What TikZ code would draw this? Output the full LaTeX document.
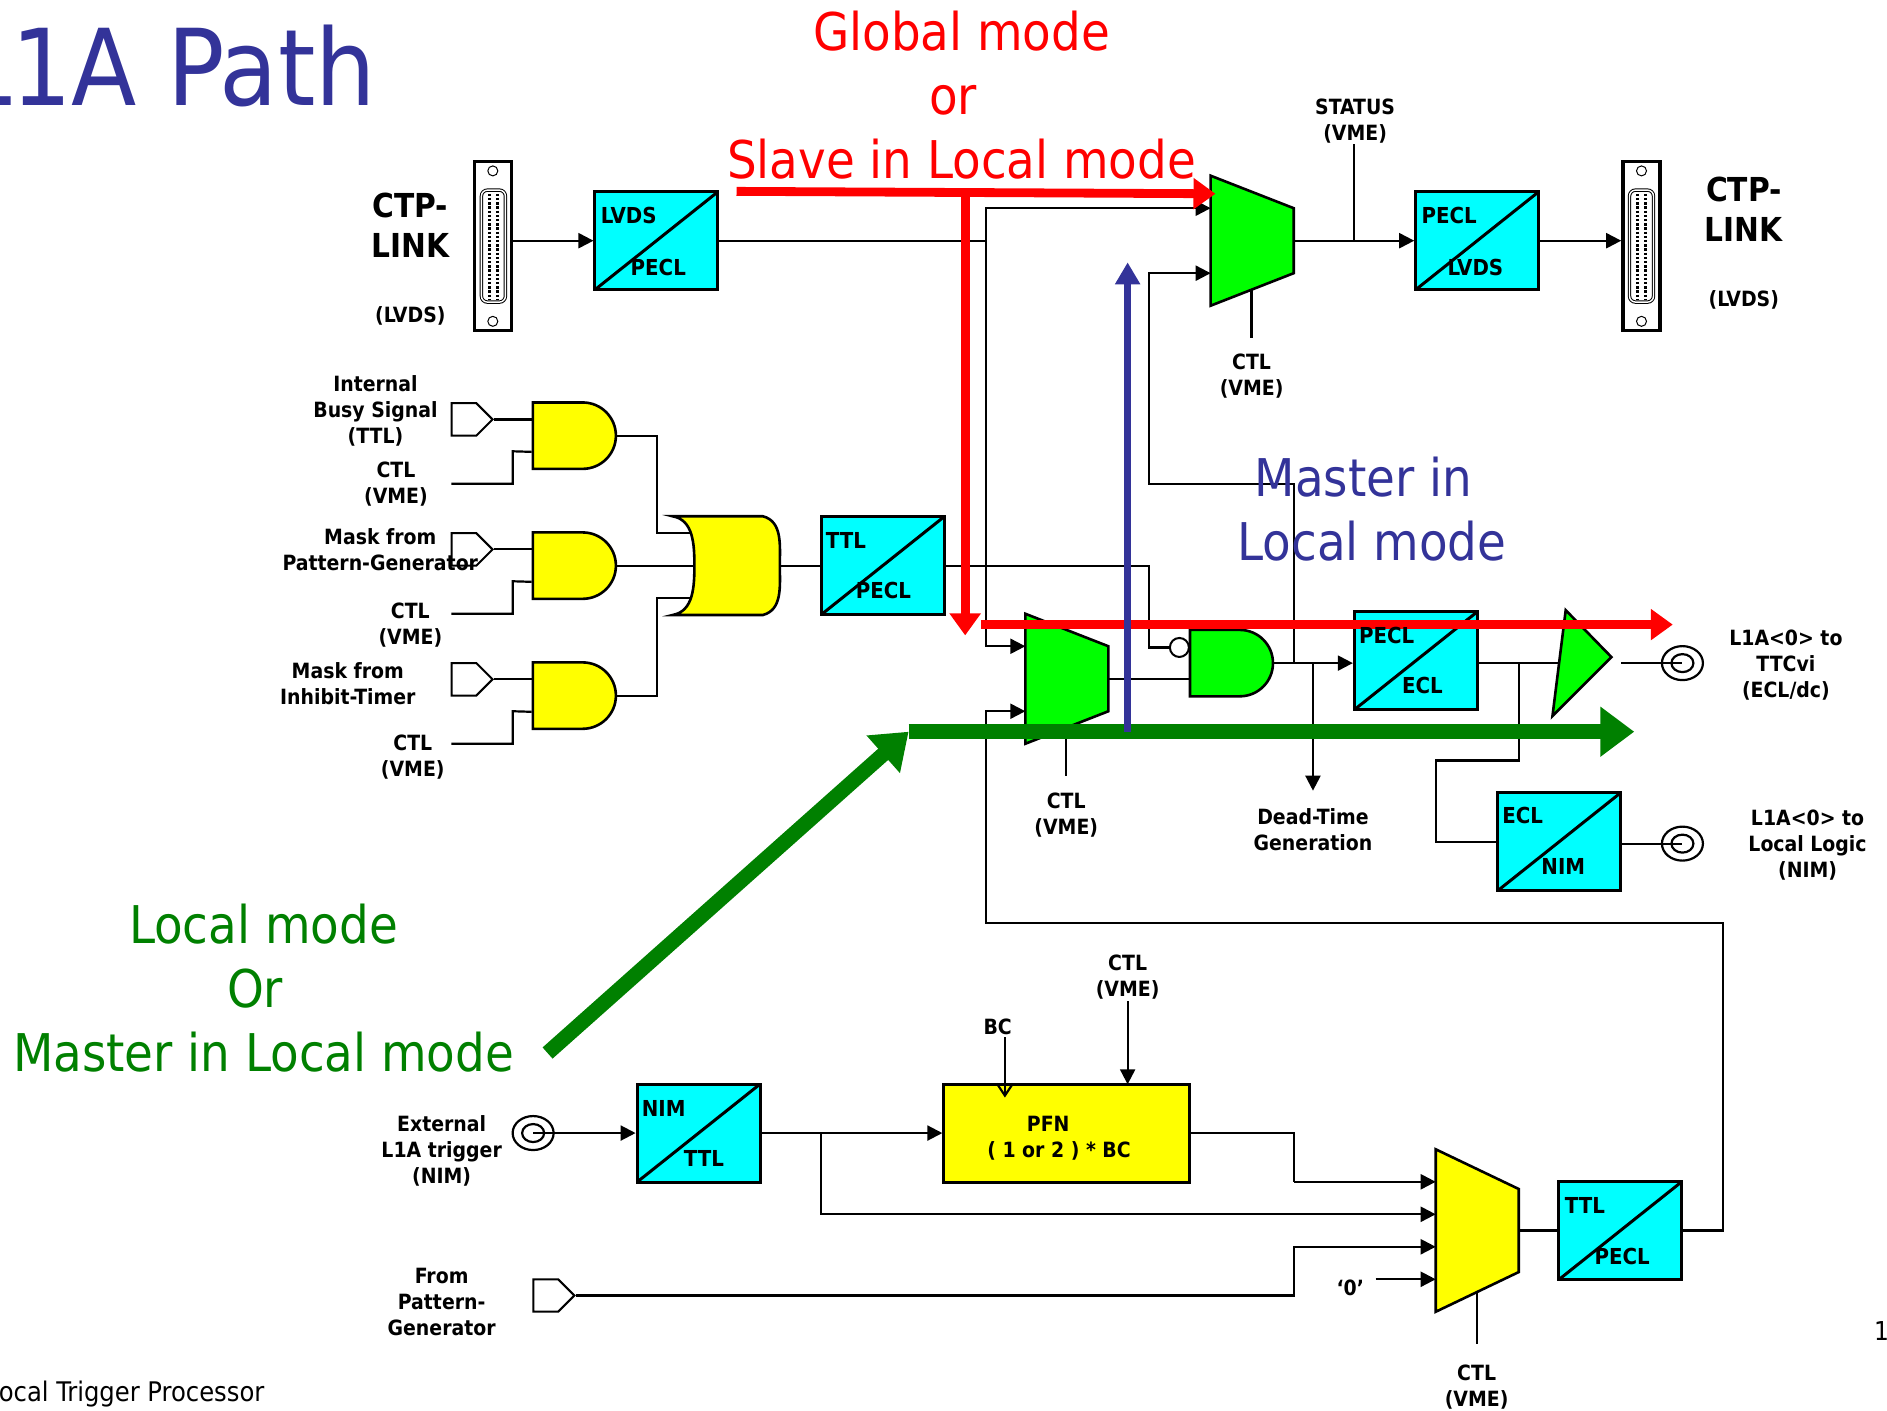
\documentclass[tikz,border=0pt]{standalone}
\usepackage{fontspec}
\setmainfont{DejaVu Sans}
\newfontfamily\titlefont{DejaVu Sans Condensed}
\newfontfamily\boldfont{DejaVu Sans Condensed Bold}
\usetikzlibrary{arrows.meta,shapes.geometric,shapes.symbols,shapes.gates.logic.US}
\definecolor{cyanbox}{RGB}{0,255,255}
\definecolor{limegate}{RGB}{0,255,0}
\definecolor{yellowgate}{RGB}{255,255,0}
\definecolor{titleblue}{RGB}{51,51,153}
\definecolor{pathgreen}{RGB}{0,128,0}
\tikzset{
  wire/.style={line width=1.1pt,line join=miter},
  sig/.style={wire,-{Triangle[length=7.5pt,width=7.5pt]}},
  convbox/.style={draw=black,line width=1.5pt,fill=cyanbox,minimum width=61.5pt,minimum height=49pt,inner sep=0pt,
    path picture={\draw[line width=1.5pt] (path picture bounding box.south west)--(path picture bounding box.north east);}},
  convtext/.style={font=\boldfont\fontsize{11}{13}\selectfont,inner sep=0pt},
  blabel/.style={font=\boldfont\fontsize{10.5}{13}\selectfont,align=center,inner sep=0pt,yshift=-0.9pt},
  linklabel/.style={font=\boldfont\fontsize{16.5}{20}\selectfont,align=center,inner sep=0pt},
  bigtext/.style={font=\titlefont\fontsize{26}{32}\selectfont,align=center,inner sep=0pt},
  muxshape/.style={draw=black,line width=1.3pt},
  andnode/.style={and gate US,draw=black,line width=1.3pt,logic gate inputs=nn,logic gate input sep=10.83pt,minimum width=41.5pt,minimum height=32.5pt,inner sep=0pt},
  flag/.style={signal,signal to=east,draw=black,fill=white,line width=1pt,minimum width=20.5pt,minimum height=16.2pt,inner sep=0pt},
  coax/.style={ellipse,draw=black,line width=1.1pt,minimum width=20.5pt,minimum height=17pt,inner sep=0pt},
  coaxin/.style={ellipse,draw=black,line width=1.1pt,minimum width=11pt,minimum height=9pt,inner sep=0pt},
  linkbody/.style={draw=black,line width=1.8pt,fill=white,minimum width=18.5pt,minimum height=84.5pt,inner sep=0pt},
  linkplug/.style={draw=black,line width=0.5pt,rounded corners=3pt,double,double distance=0.7pt,fill=white,minimum width=12pt,minimum height=56pt,inner sep=0pt},
  linkhole/.style={circle,draw=black,line width=0.5pt,minimum size=5pt,inner sep=0pt},
  pins/.style={line width=1.6pt,dash pattern=on 1.2pt off 0.9pt},
  redarrow/.style={red,line width=4.4pt,-{Triangle[length=11pt,width=15pt]}},
  greenarrow/.style={pathgreen,line width=7.5pt,-{Triangle[length=17pt,width=24pt]}},
  bluearrow/.style={titleblue,line width=3.8pt,-{Triangle[length=11pt,width=12pt]}}
}
\begin{document}
\begin{tikzpicture}[x=0.6017pt,y=-0.6017pt]
\useasboundingbox (0,0) rectangle (1568,1172);

\node[linkbody] (linkl) at (409.5,204.5) {};
\node[linkplug] (plugl) at (410,204.5) {};
\draw[pins] (406.5,161)--(406.5,249);
\draw[pins] (413.5,161)--(413.5,249);
\node[linkhole] (holela) at (409.5,142) {};
\node[linkhole] (holelb) at (409.5,267) {};
\node[linkbody] (linkr) at (1364,204.5) {};
\node[linkplug] (plugr) at (1364,204.5) {};
\draw[pins] (1360.5,161)--(1360.5,249);
\draw[pins] (1367.5,161)--(1367.5,249);
\node[linkhole] (holera) at (1364,142) {};
\node[linkhole] (holerb) at (1364,267) {};

\node[convbox] (lvdspecl) at (545.5,200) {};
\node[convbox] (pecllvds) at (1227.5,200) {};
\node[convbox] (ttlpecla) at (733.5,470) {};
\node[convbox] (peclecl) at (1176.5,549) {};
\node[convbox] (eclnim) at (1295.5,699.5) {};
\node[convbox] (nimttl) at (580.5,941.5) {};
\node[convbox] (ttlpeclb) at (1346.5,1022.5) {};
\node[draw=black,line width=1.5pt,fill=yellowgate,minimum width=123pt,minimum height=49pt,inner sep=0pt] (pfn) at (886.5,941.5) {};

\coordinate (muxaA) at (1006,146);
\coordinate (muxaB) at (1075,173);
\coordinate (muxaC) at (1075,227);
\coordinate (muxaD) at (1006,254);
\coordinate (muxain) at (1006,173);
\coordinate (muxainb) at (1006,227);
\coordinate (muxaout) at (1075,200);
\coordinate (muxactl) at (1040,241);
\coordinate (muxbA) at (852,510);
\coordinate (muxbB) at (921,537);
\coordinate (muxbC) at (921,591);
\coordinate (muxbD) at (852,618);
\coordinate (muxbin) at (852,537);
\coordinate (muxbinb) at (852,591);
\coordinate (muxbout) at (921,564);
\coordinate (muxbctl) at (886,604);
\coordinate (muxcA) at (1193,955);
\coordinate (muxcB) at (1262,988);
\coordinate (muxcC) at (1262,1057);
\coordinate (muxcD) at (1193,1090);
\coordinate (muxcin) at (1193,982);
\coordinate (muxcinb) at (1193,1009);
\coordinate (muxcinc) at (1193,1036);
\coordinate (muxcind) at (1193,1063);
\coordinate (muxcout) at (1262,1022.5);
\coordinate (muxcctl) at (1227,1073);
\filldraw[fill=limegate,muxshape] (muxaA)--(muxaB)--(muxaC)--(muxaD)--cycle;
\filldraw[fill=limegate,muxshape] (muxbA)--(muxbB)--(muxbC)--(muxbD)--cycle;
\filldraw[fill=yellowgate,muxshape] (muxcA)--(muxcB)--(muxcC)--(muxcD)--cycle;

\node[andnode,fill=yellowgate] (anda) at (475,362) {};
\node[andnode,fill=yellowgate] (andb) at (475,470) {};
\node[andnode,fill=yellowgate] (andc) at (475,578) {};
\node[andnode,fill=limegate] (andd) at (1021,551) {};
\node[circle,draw=black,fill=white,line width=1pt,minimum size=9.5pt,inner sep=0pt] (bubble) at (980,538) {};

\node[flag] (flaga) at (385.5,348.5) {};
\node[flag] (flagb) at (385.5,456.5) {};
\node[flag] (flagc) at (385.5,564.5) {};
\node[flag] (flagd) at (453.5,1076.5) {};

\node[coax] (coaxa) at (1398,551) {};
\node[coaxin] (coaxai) at (1398,551) {};
\node[coax] (coaxb) at (1398,701) {};
\node[coaxin] (coaxbi) at (1398,701) {};
\node[coax] (coaxc) at (443,941.5) {};
\node[coaxin] (coaxci) at (443,941.5) {};

\coordinate (orA) at (559,429);
\coordinate (orB) at (634,429);
\coordinate (orout) at (648,470);
\coordinate (orC) at (634,511);
\coordinate (orD) at (559,511);
\coordinate (orin) at (577,470);
\coordinate (bufA) at (1301,507);
\coordinate (bufout) at (1339,546);
\coordinate (bufB) at (1290,595);
\coordinate (bufin) at (1297,551);
\coordinate (bufend) at (1347,551);
\coordinate (forka) at (819,200);
\coordinate (forkb) at (1125,200);
\coordinate (forkc) at (1075,551);
\coordinate (forkd) at (1091,551);
\coordinate (forke) at (1262,551);
\coordinate (forkf) at (682,941.5);
\coordinate (pfntop) at (937,901);

\draw[sig] (linkl.east|-lvdspecl.west)--(lvdspecl.west);
\draw[wire] (lvdspecl.east)--(forka);
\draw[sig] (forka)|-(muxain);
\draw[sig] (forka)|-(muxbin);
\draw[wire] (muxaout)--(forkb);
\draw[sig] (forkb)--(pecllvds.west);
\draw[wire] (forkb)--(1125,120);
\draw[sig] (pecllvds.east)--(linkr.west|-pecllvds.east);
\draw[sig] (forkc)--(1075,402)--(955,402)|-(muxainb);
\draw[wire] (flaga.east)--(anda.west|-flaga.east);
\draw[wire] (375,402)-|(426,375)--([yshift=-8.1pt]anda.west);
\draw[wire] (flagb.east)--(andb.west|-flagb.east);
\draw[wire] (375,510)-|(426,483)--([yshift=-8.1pt]andb.west);
\draw[wire] (flagc.east)--(andc.west|-flagc.east);
\draw[wire] (375,618)-|(426,591)--([yshift=-8.1pt]andc.west);
\draw[wire] (anda.output)-|(546,443)--(575,443);
\draw[wire] (andb.output)--(orin);
\draw[wire] (andc.output)-|(546,497)--(575,497);
\draw[wire] (orout)--(ttlpecla.west);
\draw[wire] (ttlpecla.east)--(955,470)|-(bubble.west);
\draw[wire] (muxbout)--(andd.west|-muxbout);
\draw[sig] (andd.output)--(peclecl.west|-andd.output);
\draw[sig] (forkd)--(1091,657);
\draw[wire] (peclecl.east|-bufin)--(bufin);
\draw[wire] (forke)--(1262,632)-|(1193,699.5)--(eclnim.west);
\draw[wire] (bufend)--(coaxai.center);
\draw[wire] (eclnim.east|-coaxb)--(coaxbi.center);
\draw[sig] (coaxci.center)--(nimttl.west);
\draw[sig] (nimttl.east)--(pfn.west);
\draw[sig] (forkf)|-(muxcinb);
\draw[wire] (pfn.east)-|(1075,982);
\draw[sig] (1075,982)--(muxcin);
\draw[sig] (flagd.east)-|(1075,1036)--(muxcinc);
\draw[sig] (1143,1063)--(muxcind);
\draw[wire] (muxcout)--(ttlpeclb.west);
\draw[sig] (ttlpeclb.east)-|(1432,767)-|(819,591)--(muxbinb);
\draw[wire] (muxactl)--(1040,281);
\draw[wire] (muxbctl)--(886,645);
\draw[wire] (muxcctl)--(1227,1117);
\draw[sig] (937,832)--(pfntop);
\draw[wire,-{Straight Barb[length=6pt,width=8pt]}] (835,862)--(835,912);

\filldraw[fill=yellowgate,draw=black,line width=1.3pt] (orA)--(orB) to[out=-15,in=90] (orout) to[out=-90,in=15] (orC)--(orD) to[out=10,in=-90] (orin) to[out=90,in=-10] cycle;
\filldraw[fill=limegate,draw=black,line width=1.3pt] (bufA)--(bufout)--(bufB)--cycle;

\draw[redarrow] (612,159)--(1010,161);
\draw[redarrow] (802,161)--(802,528);
\draw[redarrow] (815,519)--(1390,519);
\draw[greenarrow] (455,875)--(755,608);
\draw[greenarrow] (755,608)--(1358,608);
\draw[bluearrow] (937,608)--(937,218);

\node[convtext,anchor=west] (tlvdsa) at (499,179) {LVDS};
\node[convtext] (tpecla) at (547,222) {PECL};
\node[convtext,anchor=west] (tpeclb) at (1181,179) {PECL};
\node[convtext] (tlvdsb) at (1226,222) {LVDS};
\node[convtext,anchor=west] (tttla) at (686,449) {TTL};
\node[convtext] (tpeclc) at (734,491) {PECL};
\node[convtext,anchor=west] (tpecld) at (1129,528) {PECL};
\node[convtext] (tecla) at (1182,570) {ECL};
\node[convtext,anchor=west] (teclb) at (1248,678) {ECL};
\node[convtext] (tnima) at (1299,720) {NIM};
\node[convtext,anchor=west] (tnimb) at (533,921) {NIM};
\node[convtext] (tttlb) at (585,963) {TTL};
\node[convtext,anchor=west] (tttlc) at (1300,1002) {TTL};
\node[convtext] (tpecle) at (1348,1044) {PECL};
\node[blabel] (tpfn) at (880,944) {PFN\kern10.8pt\\( 1 or 2 ) * BC};

\node[linklabel] (linktl) at (341,187) {CTP-\\LINK};
\node[blabel] (lvdsl) at (341,261) {(LVDS)};
\node[linklabel] (linktr) at (1449,174) {CTP-\\LINK};
\node[blabel] (lvdsr) at (1449,248) {(LVDS)};
\node[blabel] (status) at (1126,99) {STATUS\\(VME)};
\node[blabel] (ctla) at (1040,311) {CTL\\(VME)};
\node[blabel] (busy) at (312,340) {Internal\\Busy Signal\\(TTL)};
\node[blabel] (ctlb) at (329,401) {CTL\\(VME)};
\node[blabel] (maskpg) at (316,455) {Mask from\\Pattern-Generator};
\node[blabel] (ctlc) at (341,518) {CTL\\(VME)};
\node[blabel] (maskit) at (289,567) {Mask from\\Inhibit-Timer};
\node[blabel] (ctld) at (343,628) {CTL\\(VME)};
\node[blabel] (ctle) at (886,676) {CTL\\(VME)};
\node[blabel] (deadtime) at (1091,688) {Dead-Time\\Generation};
\node[blabel] (ttcvi) at (1484,551) {L1A<0> to\\TTCvi\\(ECL/dc)};
\node[blabel] (locallogic) at (1502,701) {L1A<0> to\\Local Logic\\(NIM)};
\node[blabel] (ctlf) at (937,810) {CTL\\(VME)};
\node[blabel] (bc) at (829,852) {BC};
\node[blabel] (external) at (367,955) {External\\L1A trigger\\(NIM)};
\node[blabel] (frompg) at (367,1080) {From\\Pattern-\\Generator};
\node[blabel] (zero) at (1122,1069) {‘0’};
\node[blabel] (ctlg) at (1227,1151) {CTL\\(VME)};

\node[bigtext,text=red] (globalmode) at (799,79) {Global mode\\or\kern8.4pt\\Slave in Local mode};
\node[bigtext,text=titleblue] (masterlocal) at (1140,423) {Master in\kern8.4pt\\Local mode};
\node[bigtext,text=pathgreen] (localmode) at (219,821) {Local mode\\Or\kern8.4pt\\Master in Local mode};
\node[font=\titlefont\fontsize{53}{60}\selectfont,text=titleblue,anchor=east,inner sep=0pt] (title) at (313,55) {L1A Path};
\node[font=\titlefont\fontsize{13.5}{15}\selectfont,anchor=east,inner sep=0pt] (footer) at (220,1158.5) {Local Trigger Processor};
\node[font=\titlefont\fontsize{13}{15}\selectfont,anchor=west,inner sep=0pt] (pagenum) at (1557,1106) {1};
\end{tikzpicture}
\end{document}
